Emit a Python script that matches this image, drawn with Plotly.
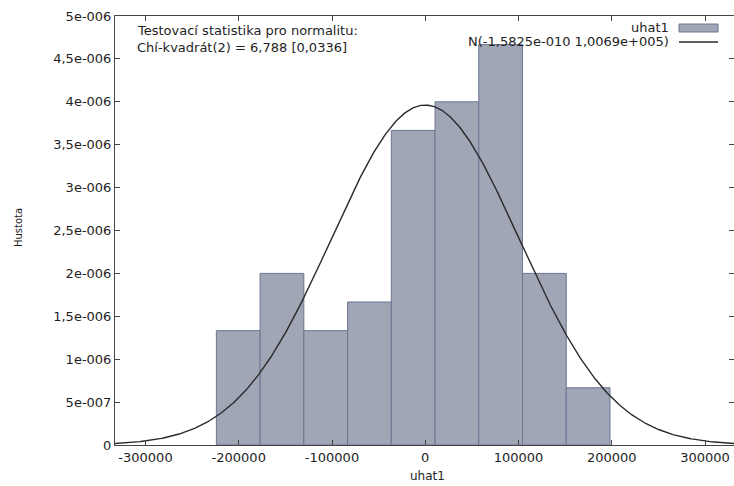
import numpy as np
import plotly.graph_objects as go

# ---- data ----
bin_centers = [-200550, -153650, -106750, -59850, -12950, 33950, 80850, 127750, 174650]
bin_width = 46900
densities = [1.333e-6, 2.0e-6, 1.333e-6, 1.667e-6, 3.667e-6, 4.0e-6, 4.667e-6, 2.0e-6, 0.667e-6]

norm_mean = -1.5825e-10
norm_sd = 1.0069e5

x_tickvals = [-300000, -200000, -100000, 0, 100000, 200000, 300000]
x_ticktext = ["-300000", "-200000", "-100000", "0", "100000", "200000", "300000"]
y_tickvals = [0, 5e-7, 1e-6, 1.5e-6, 2e-6, 2.5e-6, 3e-6, 3.5e-6, 4e-6, 4.5e-6, 5e-6]
y_ticktext = ["0", "5e-007", "1e-006", "1,5e-006", "2e-006", "2,5e-006", "3e-006",
              "3,5e-006", "4e-006", "4,5e-006", "5e-006"]

x_range = [-332700, 331100]
y_range = [0, 5e-6]

series_name = "uhat1"
curve_name = "N(-1,5825e-010 1,0069e+005)"
test_line1 = "Testovací statistika pro normalitu:"
test_line2 = "Chí-kvadrát(2) = 6,788 [0,0336]"

# ---- styling ----
BAR_FILL = "#a0a6b5"
BAR_LINE = "#6c7592"
CURVE = "#2a2a2a"
AXIS = "#444444"
TXT = "#1e1e1e"
FONT = "DejaVu Sans"

W, H = 734, 486
ML, MT = 115, 16
MB = H - 445
MR = 0
PW, PH = W - ML - MR, H - MT - MB

def px(x):
    return (x - ML) / PW

def py(y):
    return (H - MB - y) / PH

fig = go.Figure()
fig.add_trace(go.Bar(
    x=bin_centers, y=densities, width=[bin_width] * len(bin_centers),
    marker=dict(color=BAR_FILL, line=dict(color=BAR_LINE, width=1)),
    showlegend=False, hoverinfo="skip"))

xs = np.linspace(x_range[0], x_range[1], 600)
ys = np.exp(-0.5 * ((xs - norm_mean) / norm_sd) ** 2) / (norm_sd * np.sqrt(2 * np.pi))
fig.add_trace(go.Scatter(x=xs, y=ys, mode="lines", line=dict(color=CURVE, width=1.4),
                         showlegend=False, hoverinfo="skip"))

fig.update_layout(
    width=W, height=H, margin=dict(l=ML, r=MR, t=MT, b=MB),
    paper_bgcolor="white", plot_bgcolor="white",
    font=dict(family=FONT, size=13, color=TXT),
    bargap=0, showlegend=False, hovermode=False,
)
fig.update_xaxes(range=x_range, tickvals=x_tickvals, ticktext=x_ticktext,
                 ticks="inside", ticklen=5, tickcolor=AXIS, tickwidth=1,
                 showline=True, linecolor=AXIS, linewidth=1, mirror="ticks",
                 showgrid=False, zeroline=False, tickfont=dict(size=13, color=TXT))
fig.update_yaxes(range=y_range, tickvals=y_tickvals, ticktext=y_ticktext,
                 ticks="inside", ticklen=5, tickcolor=AXIS, tickwidth=1,
                 showline=True, linecolor=AXIS, linewidth=1, mirror="ticks",
                 showgrid=False, zeroline=False, tickfont=dict(size=13, color=TXT))

ann = []
ann.append(dict(x=px(135), y=py(30), xref="paper", yref="paper", text=test_line1,
                showarrow=False, xanchor="left", yanchor="middle", font=dict(size=13)))
ann.append(dict(x=px(135), y=py(47), xref="paper", yref="paper", text=test_line2,
                showarrow=False, xanchor="left", yanchor="middle", font=dict(size=13)))
ann.append(dict(x=px(671), y=py(27), xref="paper", yref="paper", text=series_name,
                showarrow=False, xanchor="right", yanchor="middle", font=dict(size=13)))
ann.append(dict(x=px(671), y=py(42), xref="paper", yref="paper", text=curve_name,
                showarrow=False, xanchor="right", yanchor="middle", font=dict(size=13)))
ann.append(dict(x=px(427), y=py(476), xref="paper", yref="paper", text="uhat1",
                showarrow=False, xanchor="center", yanchor="middle", font=dict(size=12)))
ann.append(dict(x=px(18), y=py(228), xref="paper", yref="paper", text="Hustota",
                showarrow=False, xanchor="center", yanchor="middle", textangle=-90,
                font=dict(size=10)))
fig.update_layout(annotations=ann)

fig.add_shape(type="rect", xref="paper", yref="paper",
              x0=px(679), x1=px(718), y0=py(32), y1=py(24),
              fillcolor=BAR_FILL, line=dict(color=BAR_LINE, width=1))
fig.add_shape(type="line", xref="paper", yref="paper",
              x0=px(679), x1=px(718), y0=py(42), y1=py(42),
              line=dict(color=CURVE, width=1.4))

fig.write_html("out.html", config={"displayModeBar": False, "staticPlot": True},
               post_script="document.body.style.margin='0';document.body.style.overflow='hidden';")
